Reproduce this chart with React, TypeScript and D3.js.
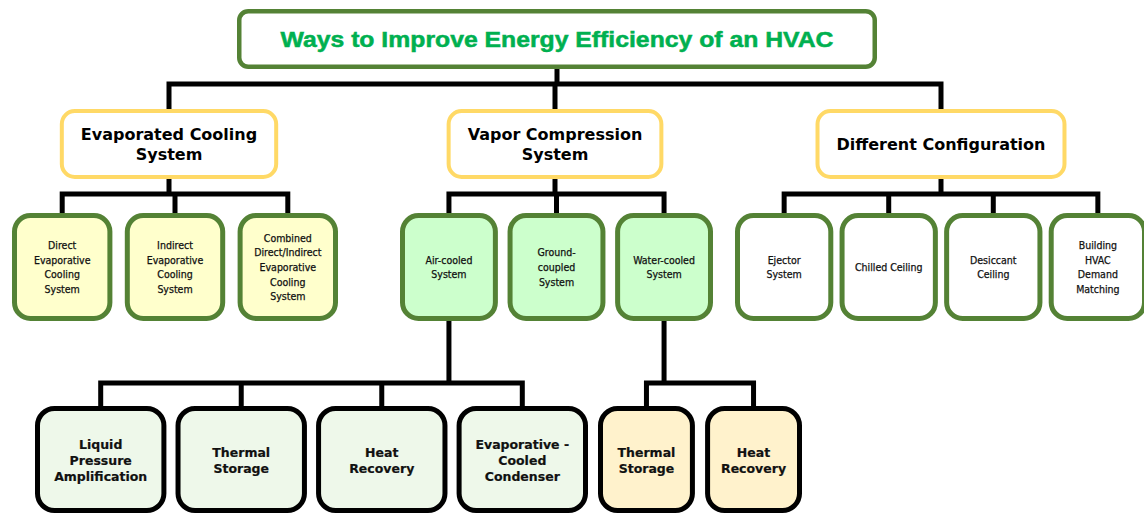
import * as React from "react"
import * as d3 from "d3"

// chart content
const title = "Ways to Improve Energy Efficiency of an HVAC"
const categories = ["Evaporated Cooling\nSystem", "Vapor Compression\nSystem", "Different Configuration"]
const evaporativeOptions = [
    "Direct\nEvaporative\nCooling\nSystem",
    "Indirect\nEvaporative\nCooling\nSystem",
    "Combined\nDirect/Indirect\nEvaporative\nCooling\nSystem",
]
const vaporOptions = ["Air-cooled\nSystem", "Ground-\ncoupled\nSystem", "Water-cooled\nSystem"]
const configOptions = ["Ejector\nSystem", "Chilled Ceiling", "Desiccant\nCeiling", "Building\nHVAC\nDemand\nMatching"]
const airCooledOptions = ["Liquid\nPressure\nAmplification", "Thermal\nStorage", "Heat\nRecovery", "Evaporative -\nCooled\nCondenser"]
const waterCooledOptions = ["Thermal\nStorage", "Heat\nRecovery"]

// layout
const W = 1144
const H = 514
const rowTop = [9, 109, 213, 406]
const rowHeight = [60, 70, 108, 107]
const busY = [84, 194, 383]

const DARK_GREEN = "#548235"
const YELLOW = "#ffd966"

interface Box {
    label: string
    x0: number
    x1: number
    y0: number
    y1: number
    fill: string
    stroke: string
    sw: number
    rx: number
    kind: "title" | "cat" | "leaf" | "sub"
}

export default function App() {
    const svgRef = React.useRef<SVGSVGElement>(null)

    React.useEffect(() => {
        if (!svgRef.current) return
        const svg = d3.select(svgRef.current)
        svg.selectAll("*").remove()

        const fonts: Record<Box["kind"], { family: string; size: number; weight: string; lh: number; color: string; thick: number }> = {
            title: { family: "'Liberation Sans', Arial, sans-serif", size: 22, weight: "bold", lh: 24, color: "#00b050", thick: 0.5 },
            cat: { family: "'DejaVu Sans', Verdana, sans-serif", size: 16, weight: "bold", lh: 20, color: "#000", thick: 0 },
            leaf: { family: "'Liberation Sans Narrow', 'DejaVu Sans Condensed', 'Liberation Sans', sans-serif", size: 10.5, weight: "normal", lh: 14.7, color: "#111", thick: 0.25 },
            sub: { family: "'DejaVu Sans', Verdana, sans-serif", size: 12.5, weight: "bold", lh: 16, color: "#111", thick: 0.2 },
        }

        // measure text widths for the auto-sized boxes
        const measure = (label: string, kind: Box["kind"]) => {
            const f = fonts[kind]
            const t = svg.append("text")
                .style("font-family", f.family)
                .style("font-size", `${f.size}px`)
                .style("font-weight", f.weight)
            let w = 0
            label.split("\n").forEach(line => {
                t.text(line)
                w = Math.max(w, (t.node() as SVGTextElement).getComputedTextLength())
            })
            t.remove()
            return w
        }

        const boxes: Box[] = []
        const links: { px: number; py: number; busY: number; cx: number[]; cy: number }[] = []

        // title
        const titleRange = [237, 877]
        const titleCx = (titleRange[0] + titleRange[1]) / 2
        const titleBox: Box = {
            label: title, x0: titleRange[0], x1: titleRange[1],
            y0: rowTop[0], y1: rowTop[0] + rowHeight[0],
            fill: "#fff", stroke: DARK_GREEN, sw: 4.5, rx: 9, kind: "title",
        }
        boxes.push(titleBox)

        // categories
        const catX = d3.scalePoint<string>().domain(categories).range([169, 941])
        const catBoxes = categories.map(c => {
            const w = measure(c, "cat") + 42
            const cx = catX(c)!
            const b: Box = {
                label: c, x0: cx - w / 2, x1: cx + w / 2,
                y0: rowTop[1], y1: rowTop[1] + rowHeight[1],
                fill: "#fff", stroke: YELLOW, sw: 4, rx: 13, kind: "cat",
            }
            boxes.push(b)
            return b
        })
        links.push({ px: titleCx, py: titleBox.y1, busY: busY[0], cx: catBoxes.map(b => (b.x0 + b.x1) / 2), cy: rowTop[1] })

        // options under each category
        const groups = [
            { items: evaporativeOptions, range: [12, 338], pad: 0.11, fill: "#ffffcc" },
            { items: vaporOptions, range: [400, 713], pad: 0.09, fill: "#ccffcc" },
            { items: configOptions, range: [735, 1147], pad: 0.06, fill: "#ffffff" },
        ]
        const leafBoxes: Box[][] = groups.map((g, gi) => {
            const x = d3.scaleBand<string>().domain(g.items).range(g.range as [number, number]).paddingInner(g.pad)
            const bs = g.items.map(it => {
                const b: Box = {
                    label: it, x0: x(it)!, x1: x(it)! + x.bandwidth(),
                    y0: rowTop[2], y1: rowTop[2] + rowHeight[2],
                    fill: g.fill, stroke: DARK_GREEN, sw: 5, rx: 16, kind: "leaf",
                }
                boxes.push(b)
                return b
            })
            const p = catBoxes[gi]
            links.push({ px: (p.x0 + p.x1) / 2, py: p.y1, busY: busY[1], cx: bs.map(b => (b.x0 + b.x1) / 2), cy: rowTop[2] })
            return bs
        })

        // sub options under air-cooled and water-cooled
        const subGroups = [
            { parent: leafBoxes[1][0], items: airCooledOptions, range: [35, 588], pad: 0.065, fill: "#eef8ea" },
            { parent: leafBoxes[1][2], items: waterCooledOptions, range: [598, 802], pad: 0.095, fill: "#fff2cc" },
        ]
        subGroups.forEach(g => {
            const x = d3.scaleBand<string>().domain(g.items).range(g.range as [number, number]).paddingInner(g.pad)
            const bs = g.items.map(it => {
                const b: Box = {
                    label: it, x0: x(it)!, x1: x(it)! + x.bandwidth(),
                    y0: rowTop[3], y1: rowTop[3] + rowHeight[3],
                    fill: g.fill, stroke: "#000", sw: 5, rx: 17, kind: "sub",
                }
                boxes.push(b)
                return b
            })
            links.push({ px: (g.parent.x0 + g.parent.x1) / 2, py: g.parent.y1, busY: busY[2], cx: bs.map(b => (b.x0 + b.x1) / 2), cy: rowTop[3] })
        })

        // connectors
        const lines = svg.append("g")
            .attr("stroke", "#000")
            .attr("stroke-width", 5)
            .attr("fill", "none")
            .attr("stroke-linecap", "square")
        links.forEach(l => {
            const path = d3.path()
            path.moveTo(l.px, l.py)
            path.lineTo(l.px, l.busY)
            const lo = Math.min(d3.min(l.cx)!, l.px)
            const hi = Math.max(d3.max(l.cx)!, l.px)
            path.moveTo(lo, l.busY)
            path.lineTo(hi, l.busY)
            l.cx.forEach(c => {
                path.moveTo(c, l.busY)
                path.lineTo(c, l.cy)
            })
            lines.append("path").attr("d", path.toString())
        })

        // boxes
        const node = svg.append("g")
            .selectAll("g")
            .data(boxes)
            .join("g")

        node.append("rect")
            .attr("x", d => d.x0 + d.sw / 2)
            .attr("y", d => d.y0 + d.sw / 2)
            .attr("width", d => d.x1 - d.x0 - d.sw)
            .attr("height", d => d.y1 - d.y0 - d.sw)
            .attr("rx", d => d.rx)
            .attr("fill", d => d.fill)
            .attr("stroke", d => d.stroke)
            .attr("stroke-width", d => d.sw)

        node.each(function (d) {
            const f = fonts[d.kind]
            const lns = d.label.split("\n")
            const cx = (d.x0 + d.x1) / 2
            const cy = (d.y0 + d.y1) / 2
            const t = d3.select(this).append("text")
                .attr("text-anchor", "middle")
                .attr("dominant-baseline", "central")
                .style("font-family", f.family)
                .style("font-size", `${f.size}px`)
                .style("font-weight", f.weight)
                .attr("fill", f.color)
                .attr("stroke", f.thick ? f.color : "none")
                .attr("stroke-width", f.thick)
            lns.forEach((ln, i) => {
                const ts = t.append("tspan")
                    .attr("x", cx)
                    .attr("y", cy + (i - (lns.length - 1) / 2) * f.lh)
                    .text(ln)
                if (d.kind === "title") {
                    // stretch to the reference's text width
                    ts.attr("textLength", 553).attr("lengthAdjust", "spacingAndGlyphs")
                }
            })
        })
    }, [])

    return (
        <svg
            ref={svgRef}
            width={W}
            height={H}
            viewBox={`0 0 ${W} ${H}`}
            style={{ position: "absolute", left: 0, top: 0, background: "#fff" }}
        />
    )
}
